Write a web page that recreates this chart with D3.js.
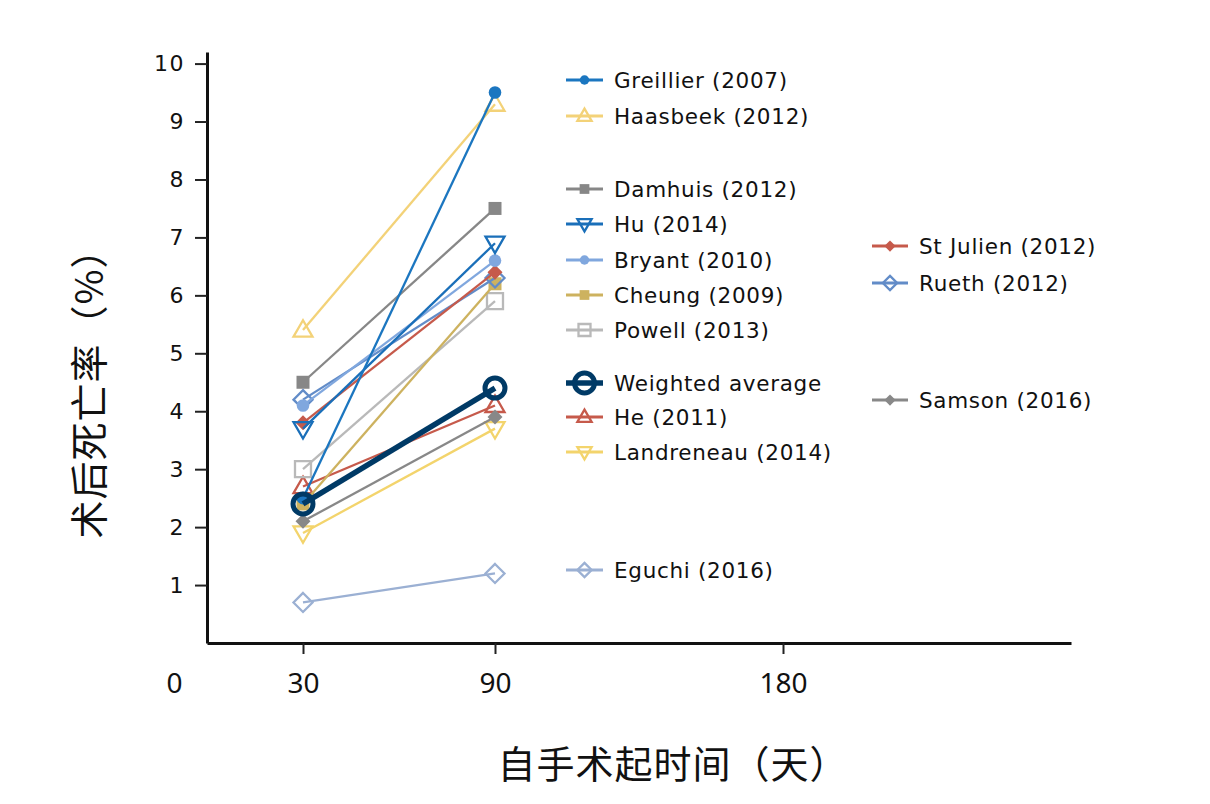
<!DOCTYPE html>
<html><head><meta charset="utf-8">
<script src="https://cdn.jsdelivr.net/npm/d3@7"></script>
<style>
html,body{margin:0;padding:0;background:#fff;}
svg{display:block;}
</style></head>
<body>
<svg id="chart" width="1210" height="804"></svg>
<script>
// ---------------- DATA ----------------
const days = [30, 90];
const xTickValues = [30, 90, 180];
const yTickValues = [1, 2, 3, 4, 5, 6, 7, 8, 9, 10];
const studies = [
  "Eguchi (2016)", "Landreneau (2014)", "He (2011)", "Samson (2016)",
  "Powell (2013)", "Cheung (2009)", "Rueth (2012)", "St Julien (2012)",
  "Bryant (2010)", "Damhuis (2012)", "Hu (2014)", "Haasbeek (2012)",
  "Greillier (2007)", "Weighted average"
];
const mortality30 = [0.7, 1.9, 2.7, 2.1, 3.0, 2.4, 4.2, 3.8, 4.1, 4.5, 3.7, 5.4, 2.5, 2.4];
const mortality90 = [1.2, 3.7, 4.1, 3.9, 5.9, 6.2, 6.3, 6.4, 6.6, 7.5, 6.9, 9.3, 9.5, 4.4];
const yTitle = "术后死亡率（%）";
const xTitle = "自手术起时间（天）";

// ---------------- STYLE ----------------
const colors = {
  "Greillier (2007)": "#1b76c0", "Haasbeek (2012)": "#f3d278", "Damhuis (2012)": "#878787",
  "Hu (2014)": "#1a6fb9", "Bryant (2010)": "#80a7de", "Cheung (2009)": "#cdb25f",
  "Powell (2013)": "#b9b9b9", "Weighted average": "#003a66", "He (2011)": "#c65a4b",
  "Landreneau (2014)": "#f3d46c", "Eguchi (2016)": "#9bb0d3", "St Julien (2012)": "#c65a4b",
  "Rueth (2012)": "#628cc8", "Samson (2016)": "#888888"
};
// shape, filled
const markers = {
  "Greillier (2007)": ["circle", true], "Haasbeek (2012)": ["triUp", false],
  "Damhuis (2012)": ["square", true], "Hu (2014)": ["triDown", false],
  "Bryant (2010)": ["circle", true], "Cheung (2009)": ["square", true],
  "Powell (2013)": ["square", false], "Weighted average": ["ring", false],
  "He (2011)": ["triUp", false], "Landreneau (2014)": ["triDown", false],
  "Eguchi (2016)": ["diamond", false], "St Julien (2012)": ["diamond", true],
  "Rueth (2012)": ["diamond", false], "Samson (2016)": ["diamond", true]
};
// legend layout: [column, y-centre]
const legendLayout = {
  "Greillier (2007)": [0, 80], "Haasbeek (2012)": [0, 116], "Damhuis (2012)": [0, 189],
  "Hu (2014)": [0, 224], "Bryant (2010)": [0, 260], "Cheung (2009)": [0, 295],
  "Powell (2013)": [0, 330], "Weighted average": [0, 383], "He (2011)": [0, 417],
  "Landreneau (2014)": [0, 452], "Eguchi (2016)": [0, 570],
  "St Julien (2012)": [1, 246], "Rueth (2012)": [1, 283], "Samson (2016)": [1, 400]
};
const legendCols = [{x0: 566, x1: 603, tx: 614}, {x0: 872, x1: 908, tx: 919}];

const svg = d3.select("#chart");
const x = d3.scaleLinear().domain([0, 270]).range([207, 1071]);
const y = d3.scaleLinear().domain([0, 10.2]).range([643, 52]);

function markerPath(shape, s) {
  const h = s / 2;
  switch (shape) {
    case "triUp": { const t = s * 0.866; return `M0,${-t*0.6}L${h},${t*0.4}L${-h},${t*0.4}Z`; }
    case "triDown": { const t = s * 0.866; return `M0,${t*0.6}L${h},${-t*0.4}L${-h},${-t*0.4}Z`; }
    case "square": return `M${-h},${-h}H${h}V${h}H${-h}Z`;
    case "diamond": return `M0,${-h}L${h},0L0,${h}L${-h},0Z`;
    default: return null;
  }
}
function drawMarker(g, name, cx, cy, scale) {
  const [shape, filled] = markers[name];
  const c = colors[name];
  if (shape === "circle") {
    g.append("circle").attr("cx", cx).attr("cy", cy).attr("r", 6.3 * scale).attr("fill", c);
  } else if (shape === "ring") {
    g.append("circle").attr("cx", cx).attr("cy", cy).attr("r", 10)
      .attr("fill", "none").attr("stroke", c).attr("stroke-width", 5);
  } else {
    const sizes = {triUp: 19, triDown: 19, square: filled ? 13 : 16, diamond: filled ? 15 : 19};
    g.append("path").attr("transform", `translate(${cx},${cy})`)
      .attr("d", markerPath(shape, sizes[shape] * scale))
      .attr("fill", filled ? c : "none")
      .attr("stroke", c).attr("stroke-width", filled ? 0 : 2.3)
      .attr("stroke-linejoin", "miter");
  }
}

// ---------------- AXES ----------------
const yAxis = svg.append("g").attr("transform", "translate(207,0)")
  .call(d3.axisLeft(y).tickValues(yTickValues).tickSize(12).tickSizeOuter(0).tickPadding(10));
yAxis.select(".domain").attr("stroke", "#111").attr("stroke-width", 3);
yAxis.selectAll(".tick line").attr("stroke", "#222").attr("stroke-width", 2);
yAxis.selectAll(".tick text").attr("font-family", "DejaVu Sans").attr("font-size", 22)
  .attr("fill", "#111").style("letter-spacing", "1.5px");

const xAxis = svg.append("g").attr("transform", "translate(0,643)")
  .call(d3.axisBottom(x).tickValues(xTickValues).tickSize(11).tickSizeOuter(0).tickPadding(19));
xAxis.select(".domain").attr("stroke", "#111").attr("stroke-width", 3);
xAxis.selectAll(".tick line").attr("stroke", "#222").attr("stroke-width", 2);
xAxis.selectAll(".tick text").attr("font-family", "Noto Sans").attr("font-size", 28).attr("fill", "#111");

svg.append("text").attr("x", 174.5).attr("y", 693).attr("text-anchor", "middle")
  .attr("font-family", "Noto Sans").attr("font-size", 28).attr("fill", "#111").text("0");

// titles
svg.append("text").attr("transform", "translate(103,384) rotate(-90)")
  .attr("text-anchor", "middle").attr("font-family", "Noto Sans CJK SC").attr("font-size", 38)
  .attr("fill", "#111").style("letter-spacing", "1px").text(yTitle);
svg.append("text").attr("x", 673).attr("y", 778)
  .attr("text-anchor", "middle").attr("font-family", "Noto Sans CJK SC").attr("font-size", 38)
  .attr("fill", "#111").style("letter-spacing", "1px").text(xTitle);

// ---------------- SERIES ----------------
const plot = svg.append("g");
const line = d3.line().x(d => x(d[0])).y(d => y(d[1]));
studies.forEach((name, i) => {
  const pts = days.map((d, k) => [d, k === 0 ? mortality30[i] : mortality90[i]]);
  const g = plot.append("g");
  g.append("path").attr("d", line(pts)).attr("fill", "none")
    .attr("stroke", colors[name]).attr("stroke-width", name === "Weighted average" ? 5.5 : 2.3);
  pts.forEach(p => drawMarker(g, name, x(p[0]), y(p[1]), 1));
});

// ---------------- LEGEND ----------------
const leg = svg.append("g");
studies.forEach(name => {
  const [col, cy] = legendLayout[name];
  const L = legendCols[col];
  const g = leg.append("g");
  g.append("line").attr("x1", L.x0).attr("x2", L.x1).attr("y1", cy).attr("y2", cy)
    .attr("stroke", colors[name]).attr("stroke-width", name === "Weighted average" ? 5.5 : 2.8);
  drawMarker(g, name, (L.x0 + L.x1) / 2, cy, 0.75);
  g.append("text").attr("x", L.tx).attr("y", cy + 8)
    .attr("font-family", "DejaVu Sans").attr("font-size", 21.5).attr("fill", "#111")
    .style("letter-spacing", "0.7px").text(name);
});
</script>
</body></html>
